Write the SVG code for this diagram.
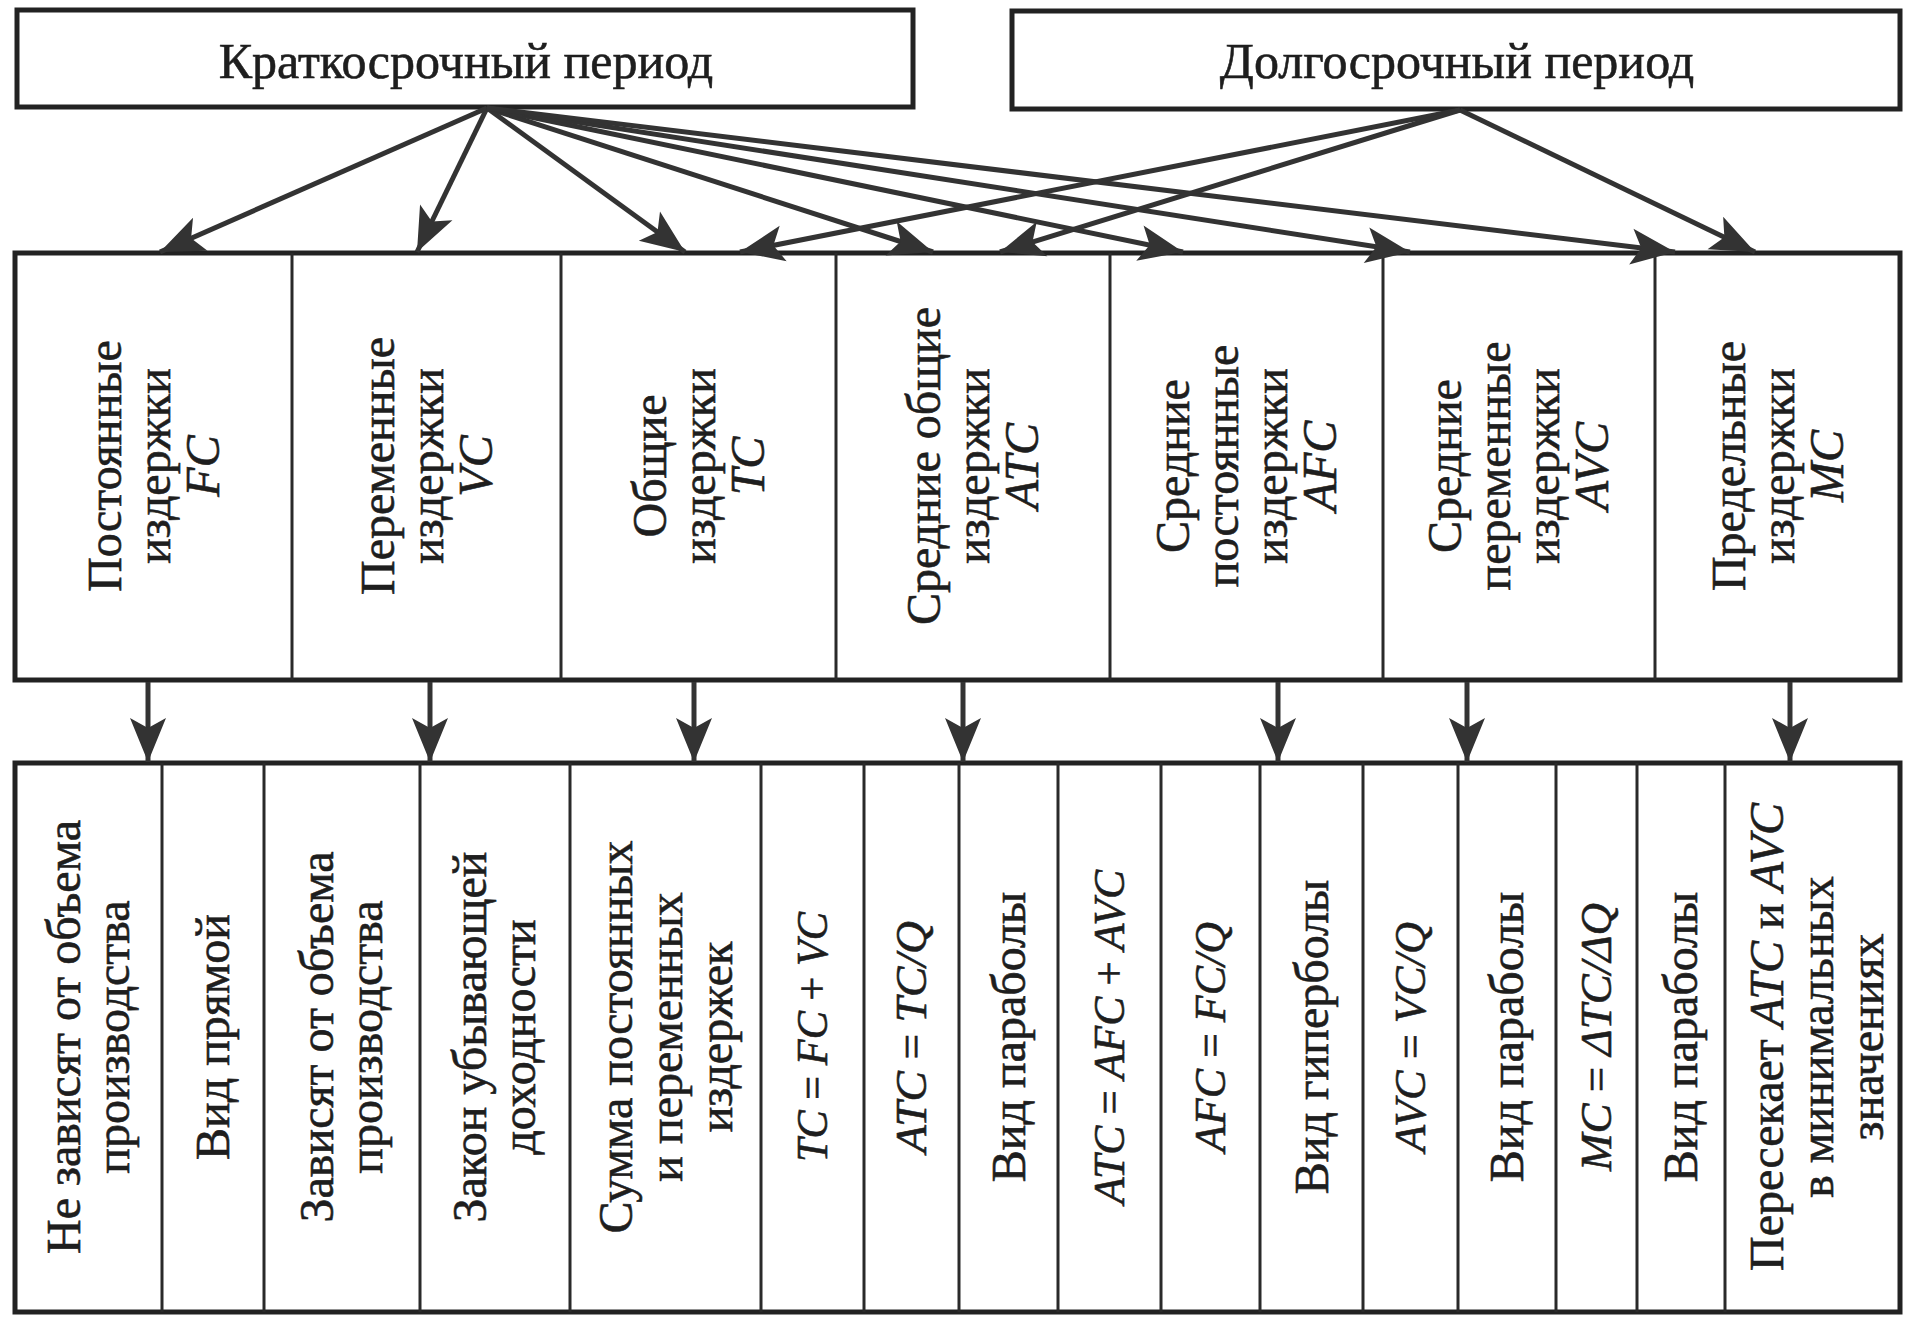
<svg xmlns="http://www.w3.org/2000/svg" width="1905" height="1320" viewBox="0 0 1905 1320">
<defs>
<style>
.box{fill:#fff;stroke:#222;stroke-width:5}
.div{stroke:#2a2a2a;stroke-width:3;fill:none}
.con{stroke:#333;stroke-width:5;fill:none;marker-end:url(#ah)}
.t{font-family:"Liberation Serif","Times New Roman",serif;fill:#1e1e1e;stroke:#1e1e1e;stroke-width:0.6;text-anchor:middle}
.h{font-size:50px}
.m{font-size:48px}
.b{font-size:48px}
.f{font-size:45px}
.i{font-style:italic}
</style>
<marker id="ah" viewBox="-46 -20 48 40" refX="0" refY="0" markerWidth="48" markerHeight="40" markerUnits="userSpaceOnUse" orient="auto">
<path d="M0,0 L-44,-18 L-34,0 L-44,18 Z" fill="#333"/>
</marker>
</defs>
<rect width="1905" height="1320" fill="#fff"/>

<g id="short-term">
<rect class="box" x="17" y="10" width="896" height="97"/>
<text class="t h" x="466" y="78">Краткосрочный период</text>
</g>
<g id="long-term">
<rect class="box" x="1012" y="11" width="888" height="98"/>
<text class="t h" x="1457" y="78">Долгосрочный период</text>
</g>

<g id="cost-types">
<rect class="box" x="15" y="253" width="1885" height="427"/>
<path class="div" d="M292,253V680M561,253V680M836,253V680M1110,253V680M1383,253V680M1655,253V680"/>
</g>
<g id="fc"><g transform="translate(153.5,466) rotate(-90)"><text class="t m"><tspan x="0" y="-33">Постоянные</tspan><tspan x="0" y="16">издержки</tspan><tspan x="0" y="65" class="i">FC</tspan></text></g></g>
<g id="vc"><g transform="translate(426.5,466) rotate(-90)"><text class="t m"><tspan x="0" y="-33">Переменные</tspan><tspan x="0" y="16">издержки</tspan><tspan x="0" y="65" class="i">VC</tspan></text></g></g>
<g id="tc"><g transform="translate(698.5,466) rotate(-90)"><text class="t m"><tspan x="0" y="-33">Общие</tspan><tspan x="0" y="16">издержки</tspan><tspan x="0" y="65" class="i">TC</tspan></text></g></g>
<g id="atc"><g transform="translate(973,466) rotate(-90)"><text class="t m"><tspan x="0" y="-33">Средние общие</tspan><tspan x="0" y="16">издержки</tspan><tspan x="0" y="65" class="i">ATC</tspan></text></g></g>
<g id="afc"><g transform="translate(1246.5,466) rotate(-90)"><text class="t m"><tspan x="0" y="-58">Средние</tspan><tspan x="0" y="-9">постоянные</tspan><tspan x="0" y="40">издержки</tspan><tspan x="0" y="89" class="i">AFC</tspan></text></g></g>
<g id="avc"><g transform="translate(1519,466) rotate(-90)"><text class="t m"><tspan x="0" y="-58">Средние</tspan><tspan x="0" y="-9">переменные</tspan><tspan x="0" y="40">издержки</tspan><tspan x="0" y="89" class="i">AVC</tspan></text></g></g>
<g id="mc"><g transform="translate(1777.5,466) rotate(-90)"><text class="t m"><tspan x="0" y="-33">Предельные</tspan><tspan x="0" y="16">издержки</tspan><tspan x="0" y="65" class="i">MC</tspan></text></g></g>

<g id="properties">
<rect class="box" x="15" y="763" width="1885" height="549"/>
<path class="div" d="M162,763V1312M264,763V1312M420,763V1312M570,763V1312M761,763V1312M864,763V1312M959,763V1312M1058,763V1312M1161,763V1312M1260,763V1312M1363,763V1312M1458,763V1312M1556,763V1312M1637,763V1312M1725,763V1312"/>
</g>
<g id="p1"><g transform="translate(88.5,1037) rotate(-90)"><text class="t b"><tspan x="0" y="-9">Не зависят от объема</tspan><tspan x="0" y="40">производства</tspan></text></g></g>
<g id="p2"><g transform="translate(213,1037) rotate(-90)"><text class="t b" x="0" y="16">Вид прямой</text></g></g>
<g id="p3"><g transform="translate(342,1037) rotate(-90)"><text class="t b"><tspan x="0" y="-9">Зависят от объема</tspan><tspan x="0" y="40">производства</tspan></text></g></g>
<g id="p4"><g transform="translate(495,1037) rotate(-90)"><text class="t b"><tspan x="0" y="-9">Закон убывающей</tspan><tspan x="0" y="40">доходности</tspan></text></g></g>
<g id="p5"><g transform="translate(665.5,1037) rotate(-90)"><text class="t b"><tspan x="0" y="-34">Сумма постоянных</tspan><tspan x="0" y="16">и переменных</tspan><tspan x="0" y="66">издержек</tspan></text></g></g>
<g id="p6"><g transform="translate(812.5,1037) rotate(-90)"><text class="t f" x="0" y="14" textLength="250" lengthAdjust="spacingAndGlyphs"><tspan class="i">TC</tspan> = <tspan class="i">FC</tspan> + <tspan class="i">VC</tspan></text></g></g>
<g id="p7"><g transform="translate(911.5,1037) rotate(-90)"><text class="t f" x="0" y="14" textLength="232" lengthAdjust="spacingAndGlyphs"><tspan class="i">ATC</tspan> = <tspan class="i">TC/Q</tspan></text></g></g>
<g id="p8"><g transform="translate(1008.5,1037) rotate(-90)"><text class="t b" x="0" y="16">Вид параболы</text></g></g>
<g id="p9"><g transform="translate(1109.5,1037) rotate(-90)"><text class="t f" x="0" y="14" textLength="334" lengthAdjust="spacingAndGlyphs"><tspan class="i">ATC</tspan> = <tspan class="i">AFC</tspan> + <tspan class="i">AVC</tspan></text></g></g>
<g id="p10"><g transform="translate(1210.5,1037) rotate(-90)"><text class="t f" x="0" y="14" textLength="230" lengthAdjust="spacingAndGlyphs"><tspan class="i">AFC</tspan> = <tspan class="i">FC/Q</tspan></text></g></g>
<g id="p11"><g transform="translate(1311.5,1037) rotate(-90)"><text class="t b" x="0" y="16">Вид гиперболы</text></g></g>
<g id="p12"><g transform="translate(1410.5,1037) rotate(-90)"><text class="t f" x="0" y="14" textLength="230" lengthAdjust="spacingAndGlyphs"><tspan class="i">AVC</tspan> = <tspan class="i">VC/Q</tspan></text></g></g>
<g id="p13"><g transform="translate(1507,1037) rotate(-90)"><text class="t b" x="0" y="16">Вид параболы</text></g></g>
<g id="p14"><g transform="translate(1596.5,1037) rotate(-90)"><text class="t f" x="0" y="14" textLength="268" lengthAdjust="spacingAndGlyphs"><tspan class="i">MC</tspan> = <tspan class="i">ΔTC/ΔQ</tspan></text></g></g>
<g id="p15"><g transform="translate(1681,1037) rotate(-90)"><text class="t b" x="0" y="16">Вид параболы</text></g></g>
<g id="p16"><g transform="translate(1812.5,1037) rotate(-90)"><text class="t b"><tspan x="0" y="-30">Пересекает <tspan class="i">ATC</tspan> и <tspan class="i">AVC</tspan></tspan><tspan x="0" y="20">в минимальных</tspan><tspan x="0" y="70">значениях</tspan></text></g></g>

<g id="connectors">
<line class="con" x1="487" y1="108" x2="160" y2="252"/>
<line class="con" x1="487" y1="108" x2="417" y2="252"/>
<line class="con" x1="487" y1="108" x2="685" y2="252"/>
<line class="con" x1="487" y1="108" x2="933" y2="252"/>
<line class="con" x1="487" y1="108" x2="1183" y2="252"/>
<line class="con" x1="487" y1="108" x2="1410" y2="252"/>
<line class="con" x1="487" y1="108" x2="1675" y2="252"/>
<line class="con" x1="1460" y1="110" x2="740" y2="252"/>
<line class="con" x1="1460" y1="110" x2="1000" y2="252"/>
<line class="con" x1="1460" y1="110" x2="1755" y2="252"/>
<line class="con" x1="148" y1="682" x2="148" y2="762"/>
<line class="con" x1="430" y1="682" x2="430" y2="762"/>
<line class="con" x1="694" y1="682" x2="694" y2="762"/>
<line class="con" x1="963" y1="682" x2="963" y2="762"/>
<line class="con" x1="1278" y1="682" x2="1278" y2="762"/>
<line class="con" x1="1467" y1="682" x2="1467" y2="762"/>
<line class="con" x1="1790" y1="682" x2="1790" y2="762"/>
</g>
</svg>
